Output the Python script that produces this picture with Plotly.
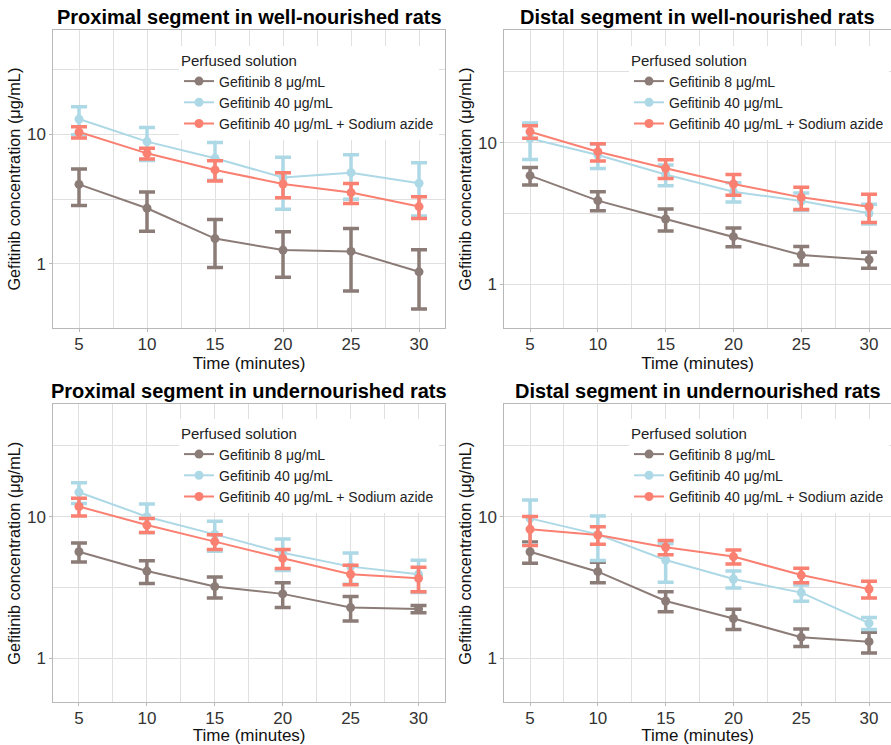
import plotly.graph_objects as go

W, H = 891, 745

time_min = [5, 10, 15, 20, 25, 30]
series_names = ["Gefitinib 8 μg/mL", "Gefitinib 40 μg/mL", "Gefitinib 40 μg/mL + Sodium azide"]
series_colors = ["#8C7C78", "#ADD8E6", "#FA8072"]
panel_titles = [
    "Proximal segment in well-nourished rats",
    "Distal segment in well-nourished rats",
    "Proximal segment in undernourished rats",
    "Distal segment in undernourished rats",
]

# Panel 1: proximal, well-nourished
p1_g8_mean = [4.11, 2.69, 1.57, 1.28, 1.25, 0.87]
p1_g8_err = [1.28, 0.90, 0.63, 0.49, 0.63, 0.42]
p1_g40_mean = [13.1, 8.78, 6.53, 4.64, 5.06, 4.19]
p1_g40_err = [3.2, 2.5, 2.1, 2.0, 1.9, 1.85]
p1_az_mean = [10.4, 7.13, 5.31, 4.14, 3.55, 2.77]
p1_az_err = [1.05, 0.69, 0.95, 0.9, 0.63, 0.53]

# Panel 2: distal, well-nourished
p2_g8_mean = [5.85, 3.90, 2.89, 2.17, 1.61, 1.49]
p2_g8_err = [0.82, 0.60, 0.51, 0.33, 0.24, 0.19]
p2_g40_mean = [10.7, 8.18, 5.97, 4.51, 3.87, 3.17]
p2_g40_err = [3.1, 1.6, 1.0, 0.7, 0.55, 0.5]
p2_az_mean = [11.96, 8.64, 6.59, 5.11, 4.11, 3.53]
p2_az_err = [1.2, 1.2, 1.0, 0.85, 0.73, 0.8]

# Panel 3: proximal, undernourished
p3_g8_mean = [5.66, 4.13, 3.21, 2.85, 2.28, 2.23]
p3_g8_err = [0.87, 0.75, 0.54, 0.57, 0.45, 0.13]
p3_g40_mean = [14.9, 10.0, 7.50, 5.57, 4.44, 3.92]
p3_g40_err = [2.5, 2.3, 1.8, 1.4, 1.1, 1.0]
p3_az_mean = [11.8, 8.73, 6.67, 5.08, 3.92, 3.67]
p3_az_err = [1.7, 1.0, 0.8, 0.78, 0.62, 0.72]

# Panel 4: distal, undernourished
p4_g8_mean = [5.66, 4.09, 2.54, 1.91, 1.41, 1.31]
p4_g8_err = [0.97, 0.67, 0.41, 0.31, 0.20, 0.22]
p4_g40_mean = [9.73, 7.50, 4.94, 3.63, 2.91, 1.77]
p4_g40_err = [3.4, 2.6, 1.5, 0.5, 0.38, 0.17]
p4_az_mean = [8.15, 7.43, 6.08, 5.23, 3.87, 3.08]
p4_az_err = [1.9, 1.05, 0.7, 0.6, 0.46, 0.42]

x_ticks = [5, 10, 15, 20, 25, 30]
x_minor = [7.5, 12.5, 17.5, 22.5, 27.5]
y_ticks = [1, 10]
y_ticktext = ["1", "10"]
y_minor = [10 ** -0.5, 10 ** 0.5, 10 ** 1.5]

panels = [
    [(p1_g8_mean, p1_g8_err), (p1_g40_mean, p1_g40_err), (p1_az_mean, p1_az_err)],
    [(p2_g8_mean, p2_g8_err), (p2_g40_mean, p2_g40_err), (p2_az_mean, p2_az_err)],
    [(p3_g8_mean, p3_g8_err), (p3_g40_mean, p3_g40_err), (p3_az_mean, p3_az_err)],
    [(p4_g8_mean, p4_g8_err), (p4_g40_mean, p4_g40_err), (p4_az_mean, p4_az_err)],
]

# layout geometry (pixels)
px_x = [(53.3, 445.0), (504.3, 891.0), (53.3, 445.0), (504.3, 891.0)]
px_y = [(30.0, 328.3), (30.0, 328.3), (404.3, 702.3), (404.3, 702.3)]
x_ranges = [[3.11, 31.91], [3.10, 31.62], [3.11, 31.95], [3.10, 31.62]]
y_ranges = [[-0.496, 1.804], [-0.311, 1.796], [-0.311, 1.794], [-0.311, 1.794]]
legend_pos = [(179, 46), (629, 46), (179, 419), (629, 419)]

FONT = "Liberation Sans, Arial, Helvetica, sans-serif"
GRID = "#e0e0e0"
BORDER = "#b8b8b8"

fig = go.Figure()

for p, series in enumerate(panels):
    sfx = "" if p == 0 else str(p + 1)
    for s, (mean, err) in enumerate(series):
        fig.add_trace(go.Scatter(
            x=time_min, y=mean,
            mode="lines+markers",
            name=series_names[s],
            line=dict(color=series_colors[s], width=2),
            marker=dict(color=series_colors[s], size=9),
            error_y=dict(type="data", array=err, symmetric=True,
                         color=series_colors[s], thickness=3.5, width=8),
            xaxis="x" + sfx, yaxis="y" + sfx,
            legend="legend" + sfx,
        ))

layout = dict(
    width=W, height=H,
    margin=dict(l=0, r=0, t=0, b=0),
    paper_bgcolor="white", plot_bgcolor="white",
    font=dict(family=FONT, color="#222222"),
    showlegend=True,
    annotations=[],
)

for p in range(4):
    sfx = "" if p == 0 else str(p + 1)
    x0, x1 = px_x[p]
    yt, yb = px_y[p]
    layout["xaxis" + sfx] = dict(
        domain=[x0 / W, min(x1 / W, 1.0)],
        range=x_ranges[p],
        anchor="y" + sfx,
        tickmode="array", tickvals=x_ticks,
        ticks="outside", ticklen=3, tickcolor=BORDER,
        ticklabelstandoff=-3,
        tickfont=dict(size=17, color="#333333"),
        showline=True, mirror=True, linecolor=BORDER, linewidth=1,
        showgrid=True, gridcolor=GRID, gridwidth=1.2,
        minor=dict(tickmode="array", tickvals=x_minor, showgrid=True,
                   gridcolor=GRID, gridwidth=0.8, ticks=""),
        zeroline=False,
        title=dict(text="Time (minutes)", font=dict(size=17, color="#111111"), standoff=0),
        automargin=False,
    )
    layout["yaxis" + sfx] = dict(
        domain=[1 - yb / H, 1 - yt / H],
        type="log",
        range=y_ranges[p],
        anchor="x" + sfx,
        tickmode="array", tickvals=y_ticks, ticktext=y_ticktext,
        ticks="outside", ticklen=3, tickcolor=BORDER,
        tickfont=dict(size=17, color="#333333"),
        showline=True, mirror=True, linecolor=BORDER, linewidth=1,
        showgrid=True, gridcolor=GRID, gridwidth=1.2,
        minor=dict(tickmode="array", tickvals=y_minor, showgrid=True,
                   gridcolor=GRID, gridwidth=0.8, ticks=""),
        zeroline=False,
        title=dict(text="Gefitinib concentration (μg/mL)", font=dict(size=16.3, color="#111111"), standoff=2),
        automargin=False,
    )
    lx, ly = legend_pos[p]
    layout["legend" + sfx] = dict(
        x=lx / W, y=1 - ly / H, xanchor="left", yanchor="top",
        xref="paper", yref="paper",
        bgcolor="white", borderwidth=0,
        title=dict(text="Perfused solution", font=dict(size=15, color="#222222")),
        font=dict(size=14, color="#222222", family=FONT),
        tracegroupgap=0, itemwidth=30,
    )
    layout["annotations"].append(dict(
        text="<b>" + panel_titles[p] + "</b>",
        x=(x0 + min(x1, W)) / 2 / W, y=1 - (yt - 13) / H,
        xref="paper", yref="paper", xanchor="center", yanchor="middle",
        showarrow=False, font=dict(size=20, color="#000000", family=FONT),
    ))

fig.update_layout(**layout)
fig.write_html("out.html")
